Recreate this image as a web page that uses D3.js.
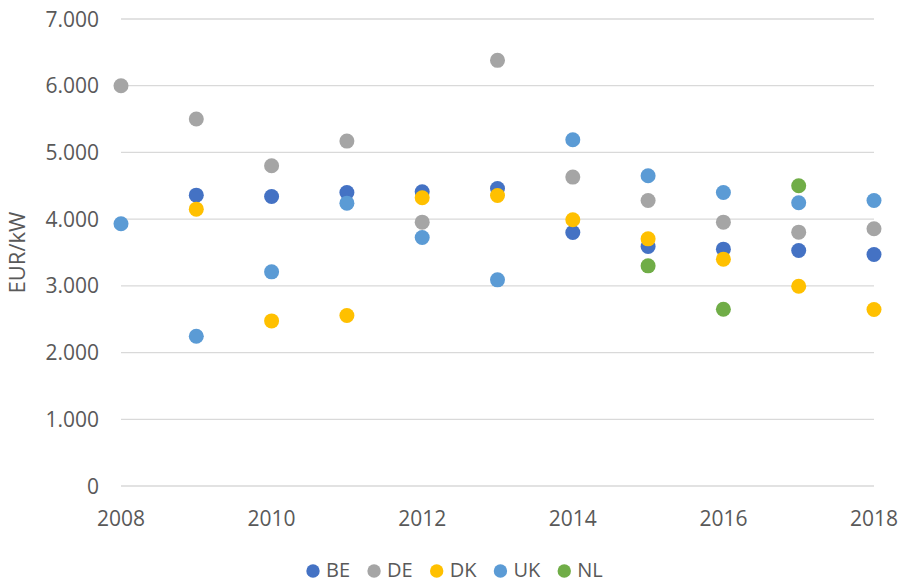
<!DOCTYPE html>
<meta charset="utf-8">
<style>
    body {
        margin: 0;
        background: #fff;
    }

    svg text {
        font-family: "Open Sans", sans-serif;
        fill: #595959;
    }

    .grid line {
        stroke: #d9d9d9;
        stroke-width: 1.3;
    }
</style>

<body>
    <script src="https://d3js.org/d3.v7.min.js"></script>
    <script>

        var years = [2008, 2009, 2010, 2011, 2012, 2013, 2014, 2015, 2016, 2017, 2018];
        var countries = ["BE", "DE", "DK", "UK", "NL"];
        var colors = ["#4472C4", "#A5A5A5", "#FFC000", "#5B9BD5", "#70AD47"];

        // EUR/kW per year, null = no value
        var BE = [null, 4360, 4340, 4400, 4410, 4460, 3800, 3590, 3550, 3530, 3470];
        var DE = [6000, 5500, 4800, 5170, 3955, 6380, 4630, 4280, 3955, 3805, 3855];
        var DK = [null, 4150, 2475, 2555, 4320, 4355, 3990, 3705, 3400, 2995, 2645];
        var UK = [3930, 2245, 3210, 4240, 3725, 3090, 5190, 4650, 4400, 4245, 4280];
        var NL = [null, null, null, null, null, null, null, 3300, 2650, 4500, null];

        var yTicks = [0, 1000, 2000, 3000, 4000, 5000, 6000, 7000];
        var xTicks = [2008, 2010, 2012, 2014, 2016, 2018];

        var series = [BE, DE, DK, UK, NL];

        var width = 902, height = 584;
        var margin = { top: 19, right: 28, bottom: 98, left: 121 };

        var svg = d3.select("body").append("svg")
            .attr("width", width)
            .attr("height", height);

        var x = d3.scaleLinear()
            .domain([2008, 2018])
            .range([margin.left, width - margin.right]);

        var y = d3.scaleLinear()
            .domain([0, 7000])
            .range([height - margin.bottom, margin.top]);

        var fmt = function (d) {
            return d === 0 ? "0" : d3.format(",")(d).replace(/,/g, ".");
        };

        // gridlines
        svg.append("g")
            .attr("class", "grid")
            .selectAll("line")
            .data(yTicks)
            .enter().append("line")
            .attr("x1", x(2008))
            .attr("x2", x(2018))
            .attr("y1", d => y(d))
            .attr("y2", d => y(d));

        // y axis labels
        svg.append("g")
            .selectAll("text")
            .data(yTicks)
            .enter().append("text")
            .attr("x", margin.left - 22)
            .attr("y", d => y(d))
            .attr("dy", "0.36em")
            .attr("text-anchor", "end")
            .style("font-size", "21px")
            .text(fmt);

        // x axis labels
        svg.append("g")
            .selectAll("text")
            .data(xTicks)
            .enter().append("text")
            .attr("x", d => x(d))
            .attr("y", y(0) + 40)
            .attr("text-anchor", "middle")
            .style("font-size", "21px")
            .text(d => d);

        svg.append("text")
            .attr("transform", "translate(25," + y(3500) + ") rotate(-90)")
            .attr("text-anchor", "middle")
            .style("font-size", "22px")
            .text("EUR/kW");

        // dots
        var groups = svg.selectAll(".series")
            .data(series)
            .enter().append("g")
            .attr("class", "series")
            .style("fill", (d, i) => colors[i]);

        groups.selectAll("circle")
            .data(d => d.map((v, i) => ({ year: years[i], value: v })).filter(p => p.value != null))
            .enter().append("circle")
            .attr("cx", d => x(d.year))
            .attr("cy", d => y(d.value))
            .attr("r", 7.5);

        // legend
        var legend = svg.append("g")
            .attr("transform", "translate(0,571)");

        var items = legend.selectAll("g")
            .data(countries)
            .enter().append("g");

        items.append("circle")
            .attr("r", 6.7)
            .style("fill", (d, i) => colors[i]);

        items.append("text")
            .attr("x", 13)
            .attr("y", 6)
            .style("font-size", "20px")
            .text(d => d);

        var offs = [], total = 0;
        items.each(function () {
            var w = 13 + this.querySelector("text").getComputedTextLength();
            offs.push(total);
            total += w + 24;
        });
        var start = 313;
        items.attr("transform", (d, i) => "translate(" + (start + offs[i]) + ",0)");

    </script>
</body>
